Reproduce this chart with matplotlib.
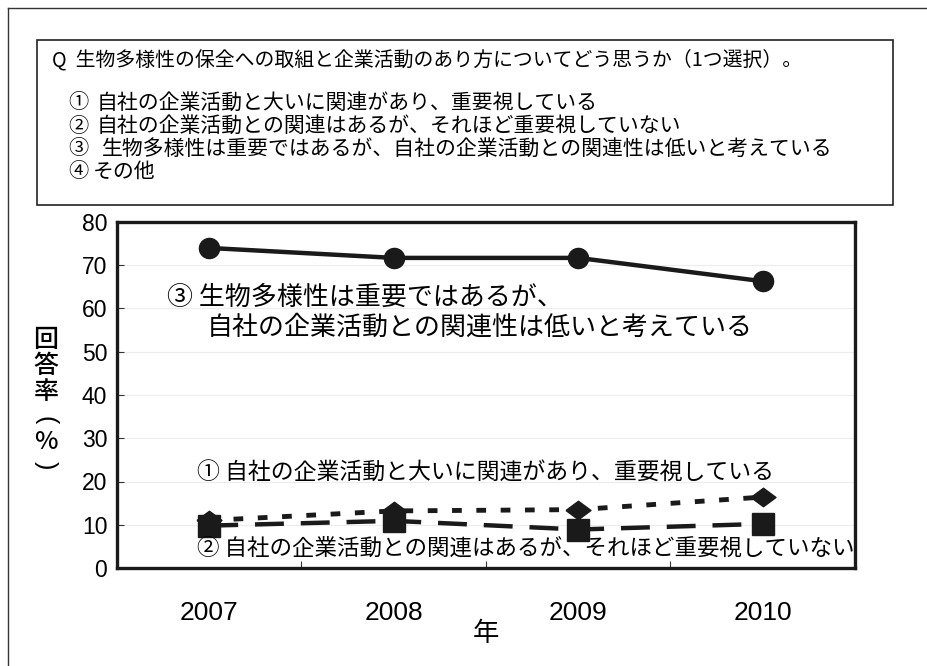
import matplotlib
matplotlib.use("Agg")
import matplotlib.pyplot as plt
from matplotlib.lines import Line2D
from matplotlib.patches import Rectangle

plt.rcParams['font.family'] = ['Noto Sans CJK JP', 'DejaVu Sans']

# ---- data ----
years = ['2007', '2008', '2009', '2010']
s3_important_low = [74.0, 71.7, 71.7, 66.3]   # ③ circles, solid
s1_strong = [11.0, 13.2, 13.5, 16.4]          # ① diamonds, short dash
s2_some = [9.8, 10.9, 8.9, 10.2]              # ② squares, long dash
yticks = [0, 10, 20, 30, 40, 50, 60, 70, 80]

question = "Q  生物多様性の保全への取組と企業活動のあり方についてどう思うか（1つ選択）。"
options = ["自社の企業活動と大いに関連があり、重要視している",
           "自社の企業活動との関連はあるが、それほど重要視していない",
           "生物多様性は重要ではあるが、自社の企業活動との関連性は低いと考えている",
           "その他"]
marks = ["①", "②", "③", "④"]
ylabel_chars = ["回", "答", "率", "(", "%", ")"]

W, H = 928, 666
fig = plt.figure(figsize=(W / 100, H / 100), dpi=100)

def fx(px):
    return px / W

def fy(py):
    return 1 - py / H

# outer frame (top & left visible)
fig.add_artist(Line2D([fx(8), 1], [fy(8), fy(8)], color='#333333', lw=1.0))
fig.add_artist(Line2D([fx(8), fx(8)], [fy(8), 0], color='#333333', lw=1.0))

# question box
fig.add_artist(Rectangle((fx(37), fy(205)), fx(893) - fx(37), fy(40) - fy(205),
                         fill=False, edgecolor='#222222', lw=1.2))
fig.text(fx(52), fy(60), question, fontsize=14.3, va='center', ha='left')
rows_y = [103, 126, 149, 172]
for i, (m, t) in enumerate(zip(marks, options)):
    fig.text(fx(68), fy(rows_y[i]), m, fontsize=14.5, va='center', ha='left')
    tx = 93 if i == 3 else (102 if i == 2 else 97)
    fig.text(fx(tx), fy(rows_y[i]), t, fontsize=15, va='center', ha='left')

# chart axes
ax = fig.add_axes([fx(117), fy(568), fx(855) - fx(117), fy(222) - fy(568)])
x = list(range(len(years)))

ax.plot(x, s3_important_low, color='#1a1a1a', lw=3.2, marker='o', markersize=14.5,
        solid_capstyle='butt', zorder=5)
diamond = [(-1, 0), (0, 0.74), (1, 0), (0, -0.74), (-1, 0)]
ax.plot(x, s1_strong, color='#1a1a1a', lw=3.5, linestyle=(0, (2.0, 3.0)),
        marker=diamond, markersize=18, zorder=4)
ax.plot(x, s2_some, color='#1a1a1a', lw=3.2, linestyle=(0, (6.5, 3.8)),
        marker='s', markersize=16, zorder=6)

ax.set_xlim(-0.5, len(years) - 0.5)
ax.set_ylim(0, 80)
ax.set_yticks(yticks)
ax.set_yticklabels([str(v) for v in yticks], fontsize=16.5, family=['Liberation Sans'])
ax.set_xticks(x)
ax.set_xticklabels(years, fontsize=19, family=['Liberation Sans'])
ax.set_xticks([i + 0.5 for i in x[:-1]], minor=True)
ax.tick_params(axis='x', which='major', length=0, pad=24)
ax.tick_params(axis='x', which='minor', direction='in', length=5, width=0.8, color='#333333')
ax.tick_params(axis='y', which='major', direction='in', length=5, width=0.8,
               color='#333333', pad=7)
ax.yaxis.grid(True, color='#ececec', lw=0.8)
ax.set_axisbelow(True)
for sp in ax.spines.values():
    sp.set_linewidth(2.4)
    sp.set_color('#1a1a1a')

ax.set_xlabel("年", fontsize=19, labelpad=-4)

# vertical y label, one character per row (brackets turned for vertical writing)
ylabel_y = [340, 366, 392, 420, 442, 465]
for ch, yy in zip(ylabel_chars, ylabel_y):
    if ch in ("(", ")"):
        fig.text(fx(46), fy(yy), ch, fontsize=18, ha='center', va='center',
                 rotation=-90, family=['Liberation Sans'], rotation_mode='anchor')
    else:
        fig.text(fx(46), fy(yy), ch, fontsize=18, ha='center', va='center',
                 fontweight='medium')

# annotations
fig.text(fx(167), fy(297), "③ 生物多様性は重要ではあるが、", fontsize=18.7, va='center', ha='left')
fig.text(fx(207), fy(327), "自社の企業活動との関連性は低いと考えている", fontsize=18.7,
         va='center', ha='left')
fig.text(fx(197), fy(473), "① 自社の企業活動と大いに関連があり、重要視している", fontsize=16.5,
         va='center', ha='left')
fig.text(fx(197), fy(548), "② 自社の企業活動との関連はあるが、それほど重要視していない",
         fontsize=16.2, va='center', ha='left')

fig.savefig("out.png", dpi=100)
